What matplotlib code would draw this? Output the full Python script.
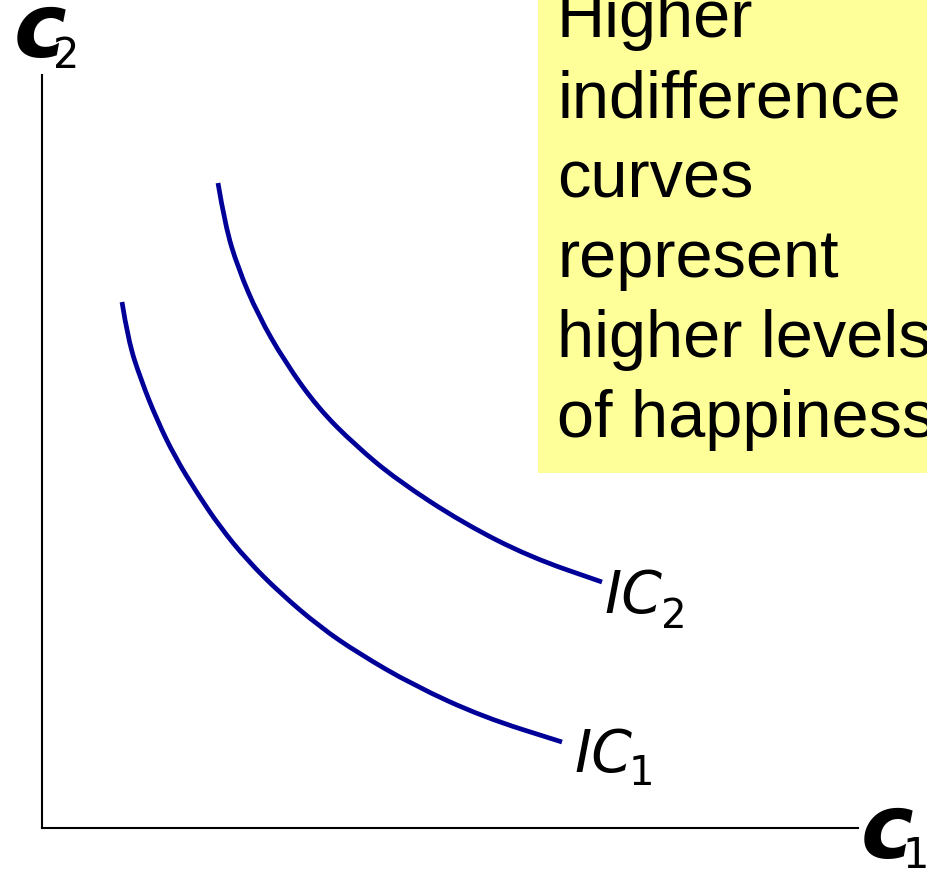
import matplotlib
matplotlib.use("Agg")
import matplotlib.pyplot as plt
from matplotlib.patches import Rectangle, PathPatch
from matplotlib.path import Path

W, H = 928, 872

# indifference curves (origin at the axes corner)
ic1_x = [80, 86, 99, 115, 133, 155, 178, 205, 238, 278, 316, 371, 441, 520]
ic1_y = [526, 488, 448, 408, 371, 335, 301, 268, 235, 201, 175, 143, 111, 86]
ic2_x = [176, 183, 196, 216, 243, 276, 313, 355, 421, 488, 560]
ic2_y = [645, 603, 560, 513, 466, 420, 383, 348, 305, 271, 246]

note_lines = ["Higher", "indifference", "curves", "represent",
              "higher levels", "of happiness"]

curve_color = "#000099"


def px(x, y):
    # pixel position (from top left) -> figure fraction
    return x / W, 1 - y / H


def smooth_path(xs, ys):
    # quadratic bezier through the midpoints, read points act as controls
    pts = list(zip(xs, ys))
    verts = [pts[0]]
    codes = [Path.MOVETO]
    for i in range(1, len(pts) - 1):
        mid = ((pts[i][0] + pts[i + 1][0]) / 2, (pts[i][1] + pts[i + 1][1]) / 2)
        verts += [pts[i], mid]
        codes += [Path.CURVE3, Path.CURVE3]
    verts.append(pts[-1])
    codes.append(Path.LINETO)
    return Path(verts, codes)


fig = plt.figure(figsize=(W / 100, H / 100), dpi=100)

ax = fig.add_axes([42 / W, 44 / H, 816 / W, 753 / H])
ax.set_facecolor("none")
ax.set_xlim(0, 816)
ax.set_ylim(0, 753)
ax.spines["top"].set_visible(False)
ax.spines["right"].set_visible(False)
for s in ("left", "bottom"):
    ax.spines[s].set_linewidth(1.5)
    ax.spines[s].set_color("black")
ax.set_xticks([])
ax.set_yticks([])

for xs, ys in [(ic1_x, ic1_y), (ic2_x, ic2_y)]:
    ax.add_patch(PathPatch(smooth_path(xs, ys), facecolor="none",
                           edgecolor=curve_color, lw=3.4, capstyle="butt"))

# yellow note box
x0, y0 = px(538, 473)
fig.patches.append(Rectangle((x0, y0), 1 - x0, 1 - y0, transform=fig.transFigure,
                             facecolor="#FFFF99", edgecolor="none", zorder=1))
for i, line in enumerate(note_lines):
    fig.text(*px(557, 37 + 80 * i), line, fontsize=48, family="Liberation Sans",
             va="baseline", ha="left", zorder=3)

# axis labels
fig.text(*px(14, 57), "c", fontsize=64, fontweight="bold", fontstyle="italic",
         va="baseline", ha="left")
fig.text(*px(53, 68), "2", fontsize=30, va="baseline", ha="left")
fig.text(*px(861, 858), "c", fontsize=64, fontweight="bold", fontstyle="italic",
         va="baseline", ha="left")
fig.text(*px(902, 868), "1", fontsize=30, va="baseline", ha="left")

# curve labels
fig.text(*px(604, 613), "IC", fontsize=42, fontstyle="italic",
         va="baseline", ha="left")
fig.text(*px(661, 628), "2", fontsize=29, va="baseline", ha="left")
fig.text(*px(574, 772), "IC", fontsize=42, fontstyle="italic",
         va="baseline", ha="left")
fig.text(*px(629, 785), "1", fontsize=29, va="baseline", ha="left")

fig.savefig("out.png", dpi=100)
